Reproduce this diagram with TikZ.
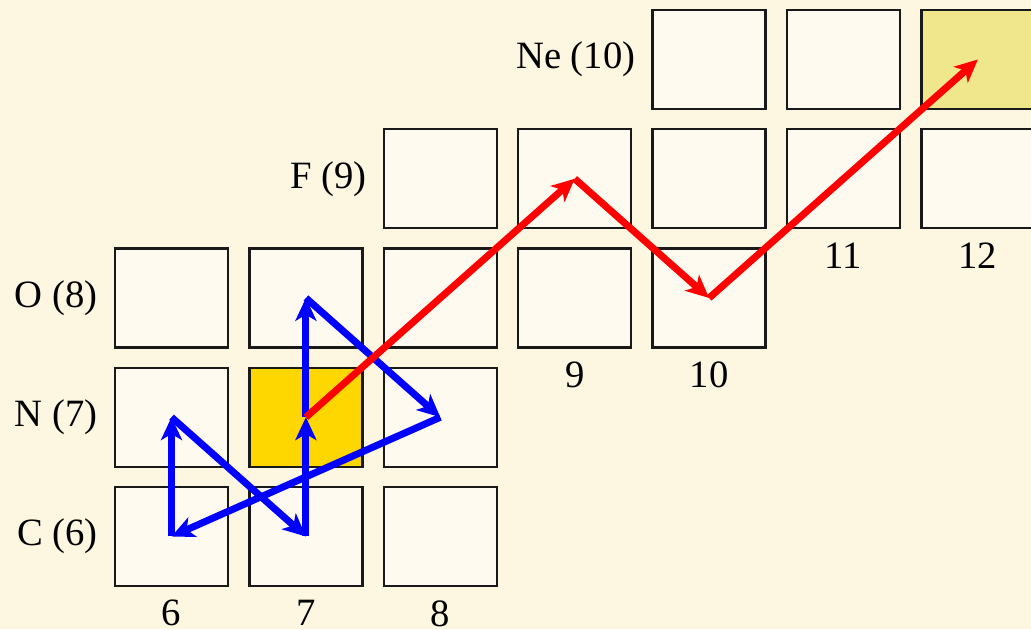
\documentclass[tikz,border=0pt]{standalone}
\usepackage{fontspec}
\setmainfont{Liberation Serif}
\usetikzlibrary{arrows.meta,positioning}

\definecolor{bgcream}{RGB}{253,246,225}
\definecolor{boxfill}{RGB}{255,250,240}
\definecolor{stablegold}{RGB}{255,215,0}
\definecolor{endkhaki}{RGB}{240,230,140}

\begin{document}
\begin{tikzpicture}[x=2.688cm, y=2.385cm,
    nuc/.style={draw=black!90, line width=1.3pt, fill=boxfill, minimum width=2.26cm, minimum height=1.98cm, inner sep=0pt},
    lbl/.style={font=\fontsize{22}{26}\selectfont},
    cno/.style={blue, line width=4pt, -{Stealth[length=13pt,width=12pt,inset=3.5pt]}},
    brk/.style={red, line width=4pt, -{Stealth[length=13pt,width=12pt,inset=3.5pt]}}]

    % Hintergrund und Ausschnitt
    \useasboundingbox (4.724,5.224) rectangle (12.395,10.499);
    \clip (4.724,5.224) rectangle (12.395,10.499);
    \fill[bgcream] (4.724,5.224) rectangle (12.395,10.499);

    % Kaestchen (Zeile = Z, Spalte = N)
    \foreach \z/\nlist in {6/{6,7,8},7/{6,8},8/{6,7,8,9,10},9/{8,9,10,11,12},10/{10,11}}
        \foreach \n in \nlist
            \node[nuc] (z\z-\n) at (\n,\z) {};
    \node[nuc, fill=stablegold] (z7-7) at (7,7) {};
    \node[nuc, fill=endkhaki] (z10-12) at (12,10) {};

    % Elementnamen links
    \node[lbl, left=0.2cm of z6-6] (elC) {C (6)};
    \node[lbl, left=0.2cm of z7-6] (elN) {N (7)};
    \node[lbl, left=0.2cm of z8-6] (elO) {O (8)};
    \node[lbl, left=0.2cm of z9-8] (elF) {F (9)};
    \node[lbl, left=0.2cm of z10-10] (elNe) {Ne (10)};

    % Neutronenzahlen unten
    \node[lbl, below=0.14cm of z6-6] (nn6) {6};
    \node[lbl, below=0.14cm of z6-7] (nn7) {7};
    \node[lbl, below=0.14cm of z6-8] (nn8) {8};
    \node[lbl, below=0.14cm of z8-9] (nn9) {9};
    \node[lbl, below=0.14cm of z8-10] (nn10) {10};
    \node[lbl, below=0.14cm of z9-11] (nn11) {11};
    \node[lbl, below=0.14cm of z9-12] (nn12) {12};

    % CNO-Zyklus (blau)
    \draw[cno] (z6-6.center) -- (z7-6.center);
    \draw[cno] (z7-6.center) -- (z6-7.center);
    \draw[cno] (z6-7.center) -- (z7-7.center);
    \draw[cno] (z7-7.center) -- (z8-7.center);
    \draw[cno] (z8-7.center) -- (z7-8.center);
    \draw[cno] (z7-8.center) -- (z6-6.center);

    % Ausbruch (rot)
    \draw[brk] (z7-7.center) -- (z9-9.center);
    \draw[brk] (z9-9.center) -- (z8-10.center);
    \draw[brk] (z8-10.center) -- (z10-12.center);

\end{tikzpicture}
\end{document}
